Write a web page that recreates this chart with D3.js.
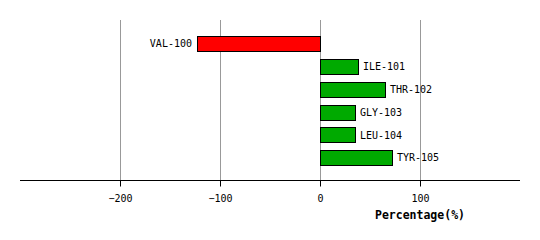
<!DOCTYPE html>
<html>
<head>
<meta charset="utf-8">
<script src="https://cdn.jsdelivr.net/npm/d3@7"></script>
<style>
body { margin: 0; background: #fff; }
svg text { font-family: "DejaVu Sans Mono", monospace; }
</style>
</head>
<body>
<svg width="540" height="240"></svg>
<script>
const width = 540
const height = 240

// residues and their percentage values
const residues = ['VAL-100', 'ILE-101', 'THR-102', 'GLY-103', 'LEU-104', 'TYR-105']
const values = [-123, 38, 65, 35, 35, 72]
const xTicks = [-200, -100, 0, 100]

const margin = { left: 20, right: 20, top: 20, bottom: 60 }

const svg = d3.select('svg')

const x = d3.scaleLinear()
    .domain([-300, 200])
    .range([margin.left, width - margin.right])

const y = d3.scaleBand()
    .domain(residues)
    .range([32.4, 169.2])
    .paddingInner(0.342)
    .paddingOuter(0.171)

const axisY = height - margin.bottom

// grid
svg.append('g')
    .selectAll('line')
    .data(xTicks)
    .join('line')
    .attr('x1', d => Math.round(x(d)) + 0.5)
    .attr('x2', d => Math.round(x(d)) + 0.5)
    .attr('y1', margin.top)
    .attr('y2', axisY)
    .attr('stroke', '#999')
    .attr('stroke-width', 1)

// bars
svg.append('g')
    .selectAll('rect')
    .data(values)
    .join('rect')
    .attr('x', d => Math.round(x(Math.min(0, d))) + 0.5)
    .attr('y', (d, i) => Math.round(y(residues[i])) + 0.5)
    .attr('width', d => Math.round(Math.abs(x(d) - x(0))))
    .attr('height', Math.round(y.bandwidth()))
    .attr('fill', d => d < 0 ? '#ff0000' : '#00aa00')
    .attr('stroke', 'black')
    .attr('stroke-width', 1)

// bar labels
svg.append('g')
    .selectAll('text')
    .data(values)
    .join('text')
    .attr('x', d => d < 0 ? x(d) - 5 : x(d) + 5)
    .attr('y', (d, i) => y(residues[i]) + y.bandwidth() / 2)
    .attr('dy', '0.35em')
    .attr('text-anchor', d => d < 0 ? 'end' : 'start')
    .attr('font-size', 10)
    .attr('fill', 'black')
    .text((d, i) => residues[i])

// x axis
const xAxis = g => g
    .attr('transform', `translate(0, ${axisY + 0.5})`)
    .call(d3.axisBottom(x).tickValues(xTicks).tickSize(6).tickPadding(8))
    .call(g => g.select('.domain')
        .attr('d', `M${margin.left},0H${width - margin.right}`)
        .attr('stroke', 'black'))
    .call(g => g.selectAll('.tick line').attr('stroke', 'black'))
    .call(g => g.selectAll('.tick text')
        .attr('font-family', '"DejaVu Sans Mono", monospace')
        .attr('font-size', 10)
        .attr('fill', 'black'))

svg.append('g').call(xAxis)

svg.append('text')
    .attr('x', x(100))
    .attr('y', 219)
    .attr('text-anchor', 'middle')
    .attr('font-size', 11.5)
    .attr('font-weight', 'bold')
    .attr('fill', 'black')
    .text('Percentage(%)')
</script>
</body>
</html>
